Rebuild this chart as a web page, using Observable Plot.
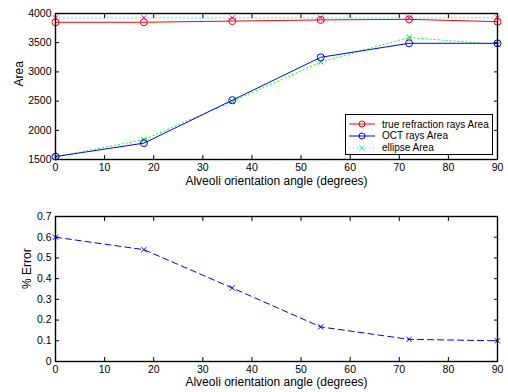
<!DOCTYPE html>
<html><head><meta charset="utf-8">
<script src="https://cdn.jsdelivr.net/npm/d3@7"></script>
<script src="https://cdn.jsdelivr.net/npm/@observablehq/plot@0.6"></script>
<style>
body{margin:0;background:#fff;font-family:"Liberation Sans",Arial,sans-serif;}
#wrap{position:relative;width:508px;height:392px;}
#topchart,#botchart{position:absolute;left:0;}
#topchart{top:0}#botchart{top:196px}
#legend{position:absolute;left:345px;top:114px;width:148px;height:41px;border:1px solid #000;background:#fff;box-sizing:border-box;font-size:10px;color:#000;}
</style></head><body>
<div id="wrap"><div id="topchart"></div><div id="botchart"></div><div id="legend"></div></div>
<script>
const angles = [0, 18, 36, 54, 72, 90];
const trueArea = [3850, 3850, 3870, 3890, 3900, 3860];
const octArea = [1550, 1780, 2515, 3250, 3490, 3490];
const ellipseTrue = [3925, 3925, 3925, 3925, 3925, 3925];
const ellipseOct = [1545, 1840, 2495, 3170, 3590, 3470];
const pctError = [0.60, 0.54, 0.355, 0.167, 0.107, 0.10];
const xTicks = [0,10,20,30,40,50,60,70,80,90];
const yTicksTop = [1500,2000,2500,3000,3500,4000];
const yTicksBot = [0,0.1,0.2,0.3,0.4,0.5,0.6,0.7];
const legendLabels = ["true refraction rays Area","OCT rays Area","ellipse Area"];
const xLabel = "Alveoli orientation angle (degrees)";

const rows = (ys) => angles.map((a,i)=>({a, v: ys[i]}));
const font = {fontFamily:"Liberation Sans, Arial, sans-serif", fontSize: "10.5px", color:"#000"};

function axes(yTicks, yLabel, yOff, yFmt, xOff){
  return [
    Plot.axisX(xTicks,{anchor:"bottom", tickSize:0, tickPadding:4, tickFormat:d3.format("d"), label:null}),
    Plot.axisX(xTicks,{anchor:"bottom", tickSize:-4, tickFormat:()=>"", label:null}),
    Plot.axisX(xTicks,{anchor:"top", tickSize:-4, tickFormat:()=>"", label:null}),
    Plot.axisY(yTicks,{anchor:"left", tickSize:0, tickPadding:4, tickFormat:yFmt, label:null}),
    Plot.axisY(yTicks,{anchor:"left", tickSize:-4, tickFormat:()=>"", label:null}),
    Plot.axisY(yTicks,{anchor:"right", tickSize:-4, tickFormat:()=>"", label:null}),
    Plot.text([xLabel],{frameAnchor:"bottom", dy:xOff, fontSize:12, lineAnchor:"middle"}),
    Plot.text([yLabel],{frameAnchor:"left", dx:-yOff, rotate:-90, fontSize:12, lineAnchor:"middle"}),
    Plot.frame({stroke:"#000", strokeWidth:1.4})
  ];
}

const topPlot = Plot.plot({
  width:508, height:196, marginLeft:55, marginRight:11, marginTop:13, marginBottom:37,
  style:{...font, background:"transparent", overflow:"visible"},
  x:{domain:[0,90]}, y:{domain:[1500,4000]},
  marks:[
    Plot.line(rows(ellipseTrue),{x:"a",y:"v",stroke:"#00ffff",strokeDasharray:"1,3",strokeWidth:1}),
    Plot.dot(rows(ellipseTrue),{x:"a",y:"v",symbol:"times",stroke:"#ff00ff",r:2.5,strokeWidth:1}),
    Plot.line(rows(ellipseOct),{x:"a",y:"v",stroke:"#00ff00",strokeDasharray:"1,3",strokeWidth:1}),
    Plot.dot(rows(ellipseOct),{x:"a",y:"v",symbol:"times",stroke:"#00cc00",r:2.5,strokeWidth:1}),
    Plot.line(rows(trueArea),{x:"a",y:"v",stroke:"#ff0000",strokeWidth:1}),
    Plot.dot(rows(trueArea),{x:"a",y:"v",stroke:"#ff0000",fill:"none",r:3.5,strokeWidth:1}),
    Plot.line(rows(octArea),{x:"a",y:"v",stroke:"#0000ff",strokeWidth:1}),
    Plot.dot(rows(octArea),{x:"a",y:"v",stroke:"#0000ff",fill:"none",r:3.5,strokeWidth:1}),
    ...axes(yTicksTop,"Area",36,d3.format("d"),22)
  ]
});
document.getElementById("topchart").appendChild(topPlot);

const botPlot = Plot.plot({
  width:508, height:196, marginLeft:55, marginRight:11, marginTop:20, marginBottom:31,
  style:{...font, background:"transparent", overflow:"visible"},
  x:{domain:[0,90]}, y:{domain:[0,0.7]},
  marks:[
    Plot.line(rows(pctError),{x:"a",y:"v",stroke:"#0000ff",strokeDasharray:"6,4",strokeWidth:1}),
    Plot.dot(rows(pctError),{x:"a",y:"v",symbol:"times",stroke:"#0000ff",r:2.5,strokeWidth:1}),
    ...axes(yTicksBot,"% Error",28,d3.format("~g"),21)
  ]
});
document.getElementById("botchart").appendChild(botPlot);

// legend
const leg = document.getElementById("legend");
const styles = [
  {stroke:"#ff0000", dash:null, sym:"circle"},
  {stroke:"#0000ff", dash:null, sym:"circle"},
  {stroke:"#00ffff", dash:"1,3", sym:"x"}
];
legendLabels.forEach((lab,i)=>{
  const s = styles[i];
  const row = document.createElement("div");
  row.style.cssText = "position:absolute;left:0;top:"+(3+i*11.8)+"px;height:12px;display:flex;align-items:center;white-space:nowrap;";
  const mk = s.sym==="circle"
    ? `<circle cx="16" cy="6" r="3" fill="none" stroke="${s.stroke}"/>`
    : `<path d="M13.5,3.5L18.5,8.5M18.5,3.5L13.5,8.5" stroke="${s.stroke}"/>`;
  row.innerHTML = `<svg width="34" height="12"><line x1="3" x2="29" y1="6" y2="6" stroke="${s.stroke}" ${s.dash?`stroke-dasharray="${s.dash}"`:""}/>${mk}</svg><span style="margin-left:2px">${lab}</span>`;
  leg.appendChild(row);
});
</script></body></html>
